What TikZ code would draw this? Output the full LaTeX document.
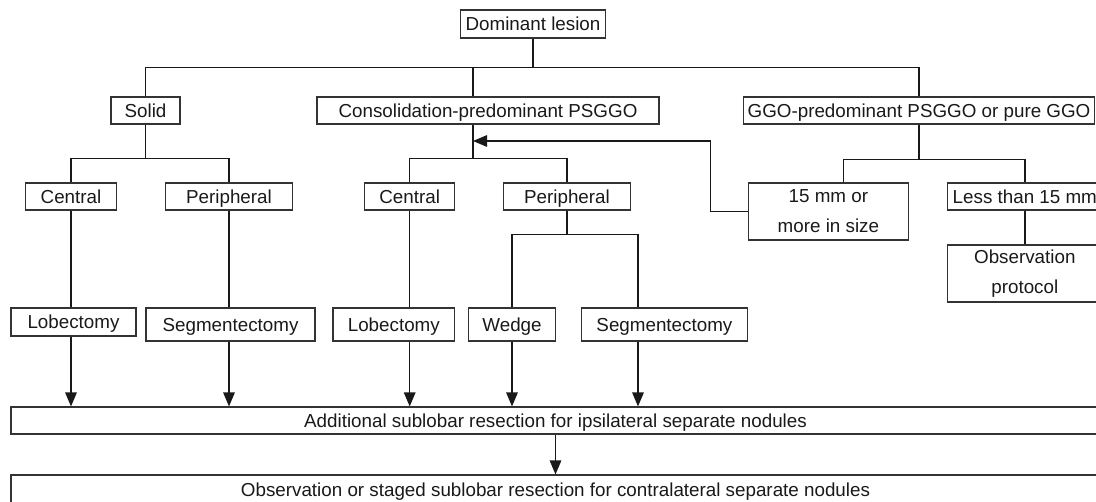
\documentclass[tikz,border=0pt]{standalone}
\usepackage{fontspec}
\setmainfont{Liberation Sans}
\usetikzlibrary{arrows.meta}
\newcommand\rect[6][text depth=0pt]{\node(#2)[box,#1,minimum width=#4pt,minimum height=#5pt] at (#3){#6};}
\tikzset{box/.style={draw=black!80,line width=1.1pt,inner sep=0pt,align=center,text=black!90,font=\fontsize{18.8}{30}\selectfont},
  link/.style={line width=1.4pt,draw=black!90},
  arr/.style={link,-{Triangle[length=14pt,width=11.5pt]}}}

\begin{document}
\begin{tikzpicture}[x=1pt,y=1pt]
    \useasboundingbox (0,0) rectangle (1096,-502);
    \clip (0,0) rectangle (1096,-502);
    \rect{dom}{533,-24}{144.5}{28}{Dominant lesion}
    \rect{solid}{145.5,-110.5}{69}{27}{Solid}
    \rect{cons}{488,-110.5}{342}{27}{Consolidation-predominant PSGGO}
    \rect{ggo}{919,-110.5}{350.5}{27}{GGO-predominant PSGGO or pure GGO}
    \rect{c1}{71,-196.5}{90.6}{27}{Central}
    \rect{p1}{229,-196.5}{127}{27}{Peripheral}
    \rect{c2}{409.7,-196.5}{89.8}{27}{Central}
    \rect{p2}{567,-196.5}{126.3}{27}{Peripheral}
    \rect[]{big}{828.4,-211.5}{159.3}{57}{15 mm or\\more in size}
    \rect{less}{1024.8,-196.5}{154.4}{27}{Less than 15 mm}
    \rect[]{obsp}{1024.8,-273.5}{154.4}{57}{Observation\\protocol}
    \rect{l1}{73.5,-322}{125}{28}{Lobectomy}
    \rect{s1}{230.5,-324.5}{169}{33}{Segmentectomy}
    \rect{l2}{393.8,-324.5}{121.7}{33}{Lobectomy}
    \rect{w}{512,-324.5}{87}{33}{Wedge}
    \rect{s2}{664.4,-324.5}{166}{33}{Segmentectomy}
    \rect{add}{555.5,-420.5}{1089}{27}{Additional sublobar resection for ipsilateral separate nodules}
    \rect{stg}{555.5,-490}{1089}{30}{Observation or staged sublobar resection for contralateral separate nodules}
    % tree lines
    \coordinate(cx) at (473,0);
    \coordinate(ca) at (473,-141);
    \draw[link] (dom.south) -- ++(0,-29) coordinate(j0);
    \draw[link] (solid.north) |- (j0) -| (ggo.north);
    \draw[link] (cx |- j0) -- (cx |- cons.north);
    \draw[link] (solid.south) -- ++(0,-34) coordinate(j1);
    \draw[link] (c1.north) |- (j1) -| (p1.north);
    \draw[link] (cx |- cons.south) -- ++(0,-34) coordinate(j2);
    \draw[link] (c2.north) |- (j2) -| (p2.north);
    \draw[link] (ggo.south) -- ++(0,-35) coordinate(j3);
    \draw[link] ([xshift=15pt]big.north) |- (j3) -| (less.north);
    \draw[link] (less) -- (obsp);
    \draw[arr] (big.west) -- ++(-37.7,0) |- (ca);
    \draw[link] (c1.south) -- (c1.south |- l1.north);
    \draw[link] (p1.south) -- (p1.south |- s1.north);
    \draw[link] (c2.south) -- (c2.south |- l2.north);
    \draw[link] (p2.south) -- ++(0,-24) coordinate(j4);
    \draw[link] (w.north) |- (j4) -| ([xshift=-26.4pt]s2.north);
    % into the resection boxes
    \draw[arr] (c1.south |- l1.south) -- (c1.south |- add.north);
    \draw[arr] (p1.south |- s1.south) -- (p1.south |- add.north);
    \draw[arr] (c2.south |- l2.south) -- (c2.south |- add.north);
    \draw[arr] (w.south) -- (w.south |- add.north);
    \draw[arr] ([xshift=-26.4pt]s2.south) -- ([xshift=-26.4pt]s2.south |- add.north);
    \draw[arr] (add) -- (stg);
\end{tikzpicture}
\end{document}
